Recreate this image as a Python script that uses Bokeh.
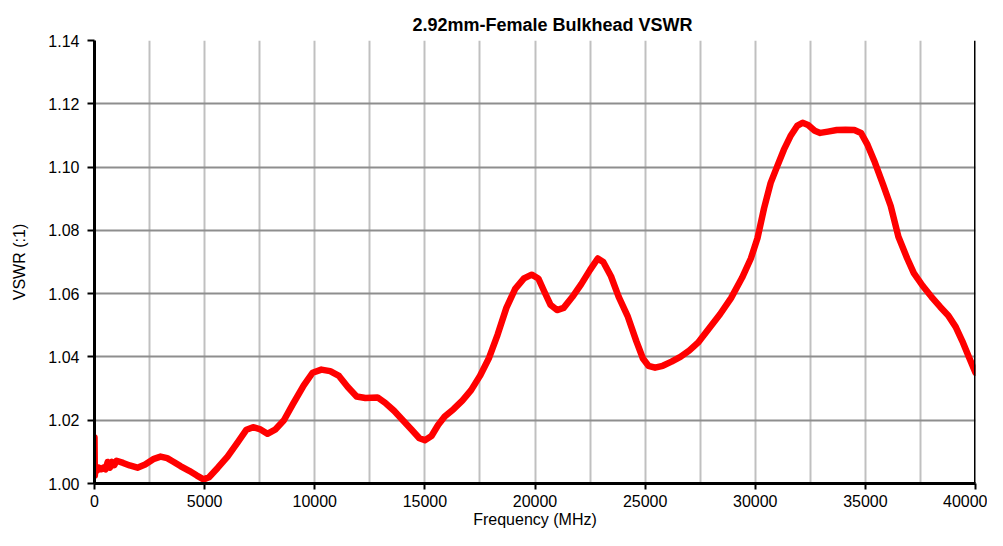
from bokeh.plotting import figure
from bokeh.models import Range1d, SingleIntervalTicker, FixedTicker, NumeralTickFormatter, Span
from bokeh.embed import file_html
from bokeh.resources import INLINE

TITLE = "2.92mm-Female  Bulkhead  VSWR"
X_LABEL = "Frequency (MHz)"
Y_LABEL = "VSWR (:1)"
X_MIN, X_MAX = 0, 40000
Y_MIN, Y_MAX = 1.00, 1.14
X_TICKS = [0, 5000, 10000, 15000, 20000, 25000, 30000, 35000, 40000]
Y_TICKS = [1.00, 1.02, 1.04, 1.06, 1.08, 1.10, 1.12, 1.14]

freq = [0, 15, 50, 100, 200, 300, 400, 500, 600, 700, 800, 900, 1000, 1300, 1600, 1950,
        2300, 2700, 3000, 3300, 3600, 3900, 4300, 4650, 4950, 5200, 5600, 6040, 6500, 6900,
        7200, 7500, 7850, 8200, 8600, 9000, 9500, 9900, 10300, 10700, 11100, 11500, 11900,
        12300, 12850, 13200, 13600, 14000, 14400, 14750, 15000, 15300, 15600, 15900, 16300,
        16700, 17100, 17500, 17900, 18300, 18700, 19100, 19500, 19850, 20150, 20400, 20700,
        21000, 21300, 21700, 22100, 22500, 22850, 23100, 23450, 23800, 24200, 24600, 24900,
        25150, 25450, 25800, 26200, 26600, 27000, 27400, 27900, 28400, 28900, 29400, 29800,
        30100, 30400, 30700, 31000, 31300, 31600, 31900, 32150, 32400, 32700, 32950, 33300,
        33700, 34100, 34500, 34800, 35100, 35400, 35800, 36150, 36500, 36900, 37200, 37600,
        38000, 38400, 38750, 39100, 39400, 39700, 40000]
vswr = [1.0145, 1.0025, 1.0055, 1.0040, 1.0050, 1.0045, 1.0050, 1.0045, 1.0068, 1.0050,
        1.0068, 1.0058, 1.0072, 1.0065, 1.0057, 1.0050, 1.0060, 1.0078, 1.0085, 1.0080,
        1.0068, 1.0055, 1.0040, 1.0025, 1.0013, 1.0020, 1.0050, 1.0085, 1.0130, 1.0170,
        1.0178, 1.0172, 1.0157, 1.0170, 1.0200, 1.0250, 1.0310, 1.0350, 1.0360, 1.0355,
        1.0340, 1.0305, 1.0275, 1.0270, 1.0272, 1.0255, 1.0230, 1.0200, 1.0170, 1.0143,
        1.0137, 1.0150, 1.0185, 1.0212, 1.0235, 1.0262, 1.0295, 1.0340, 1.0395, 1.0470,
        1.0555, 1.0615, 1.0648, 1.0660, 1.0648, 1.0610, 1.0565, 1.0548, 1.0555, 1.0590,
        1.0630, 1.0675, 1.0711, 1.0700, 1.0655, 1.0590, 1.0530, 1.0450, 1.0395, 1.0372,
        1.0366, 1.0372, 1.0385, 1.0400, 1.0420, 1.0445, 1.0490, 1.0535, 1.0586, 1.0650,
        1.0711, 1.0775, 1.0870, 1.0950, 1.1003, 1.1055, 1.1098, 1.1130, 1.1140, 1.1133,
        1.1115, 1.1108, 1.1112, 1.1117, 1.1118, 1.1117, 1.1108, 1.1070, 1.1020, 1.0945,
        1.0877, 1.0780, 1.0711, 1.0665, 1.0625, 1.0590, 1.0558, 1.0532, 1.0495, 1.0450,
        1.0400, 1.0350]

FONT = "Liberation Sans"

p = figure(width=987, height=530, output_backend="svg", toolbar_location=None,
           x_range=Range1d(X_MIN, X_MAX), y_range=Range1d(Y_MIN, Y_MAX),
           min_border_left=94, min_border_right=12, min_border_top=40, min_border_bottom=47,
           background_fill_color="white", border_fill_color="white")
p.outline_line_color = None

p.title.text = TITLE
p.title.text_font = FONT
p.title.text_font_size = "18px"
p.title.text_font_style = "bold"
p.title.text_color = "black"
p.title.align = "left"
p.title.offset = 318
p.title.standoff = 12

p.line(freq, vswr, line_color="#ff0000", line_width=6.5, line_join="round", line_cap="round")

# grids
p.xgrid.ticker = SingleIntervalTicker(interval=2500)
p.xgrid.grid_line_color = "#c0c0c0"
p.xgrid.grid_line_width = 2
p.ygrid.ticker = FixedTicker(ticks=Y_TICKS)
p.ygrid.grid_line_color = "#8e8e8e"
p.ygrid.grid_line_width = 2

# right border
p.add_layout(Span(location=X_MAX, dimension="height", line_color="black", line_width=3))

for ax in (p.xaxis[0], p.yaxis[0]):
    ax.axis_line_color = "black"
    ax.axis_line_width = 3
    ax.major_tick_line_color = "black"
    ax.major_tick_line_width = 2
    ax.major_tick_out = 7
    ax.major_tick_in = 0
    ax.minor_tick_line_color = None
    ax.major_label_text_font = FONT
    ax.major_label_text_font_size = "16px"
    ax.major_label_text_color = "black"
    ax.axis_label_text_font = FONT
    ax.axis_label_text_font_size = "16px"
    ax.axis_label_text_font_style = "normal"
    ax.axis_label_text_color = "black"

p.xaxis.ticker = FixedTicker(ticks=X_TICKS)
p.xaxis.axis_label = X_LABEL
p.xaxis.major_tick_out = 6
p.xaxis.major_label_standoff = 5
p.xaxis.axis_label_standoff = 1

p.yaxis.ticker = FixedTicker(ticks=Y_TICKS)
p.yaxis.formatter = NumeralTickFormatter(format="0.00")
p.yaxis.axis_label = Y_LABEL
p.yaxis.major_label_standoff = 8
p.yaxis.axis_label_standoff = 17

open("out.html", "w").write(file_html(p, INLINE))
